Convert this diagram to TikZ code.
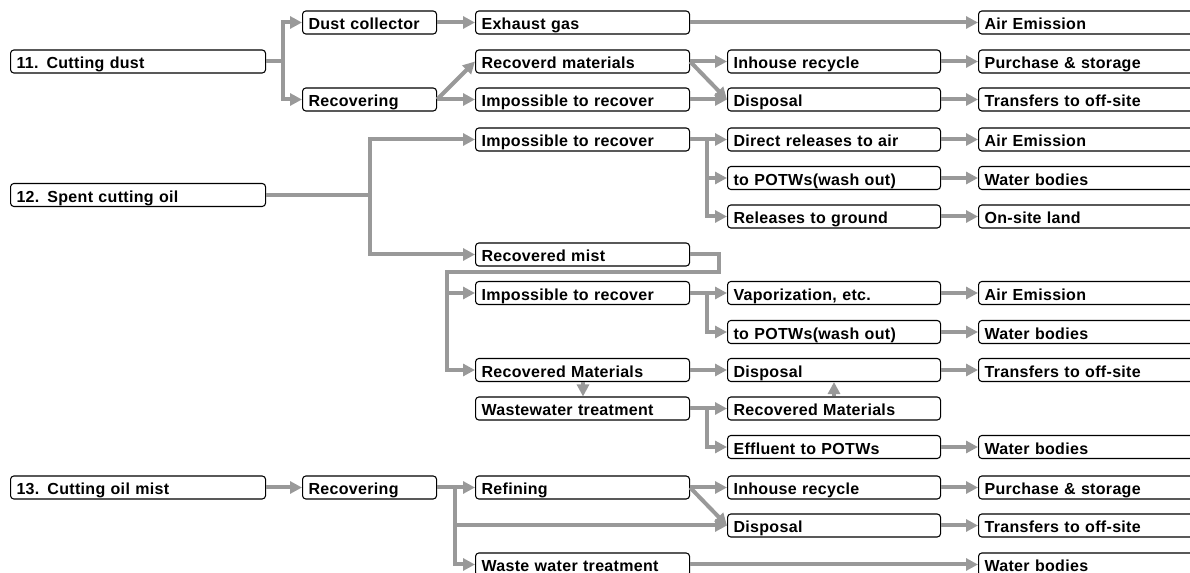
\documentclass[tikz,border=0pt]{standalone}
\usepackage{fontspec}
\setmainfont{Liberation Sans}[LetterSpace=2]
\usetikzlibrary{arrows.meta,calc}
\definecolor{flow}{RGB}{153,153,153}
\tikzset{
  box/.style={draw=black, line width=0.8pt, fill=white, rounded corners=2.5pt,
    inner xsep=4.5pt, inner ysep=0pt, minimum height=17.25pt,
    text height=12pt, text depth=0.75pt, align=left,
    font=\fontsize{12pt}{13pt}\selectfont\bfseries},
  ln/.style={draw=flow, line width=3pt},
  arr/.style={ln, -{Triangle[length=9pt,width=9pt]}},
}
% \bx{name}{left x}{right x}{centre y}{label}
\newcommand\bx[5]{%
  \pgfmathsetmacro\bxw{(#3-#2)*0.75-9}%
  \node[box, text width=\bxw pt, anchor=west] (#1) at (#2,#4) {#5};%
}
\begin{document}
\begin{tikzpicture}[x=0.75pt, y=-0.75pt]
\useasboundingbox (0,0) rectangle (1190,573);
\clip (0,0) rectangle (1190,573);

% column edges
\def\al{10}\def\ar{265}
\def\bl{302}\def\br{436}
\def\cl{475}\def\cr{689}
\def\dl{727}\def\dr{940}
\def\el{978}\def\er{1215}

% ---- 11. Cutting dust
\bx{c11}{\al}{\ar}{61.5}{11. Cutting dust}
\bx{dcol}{\bl}{\br}{22.5}{Dust collector}
\bx{rec1}{\bl}{\br}{99.5}{Recovering}
\bx{exh}{\cl}{\cr}{22.5}{Exhaust gas}
\bx{rmat1}{\cl}{\cr}{61.5}{Recoverd materials}
\bx{imp1}{\cl}{\cr}{99.5}{Impossible to recover}
\bx{inh1}{\dl}{\dr}{61.5}{Inhouse recycle}
\bx{dis1}{\dl}{\dr}{99.5}{Disposal}
\bx{air1}{\el}{\er}{22.5}{Air Emission}
\bx{pur1}{\el}{\er}{61.5}{Purchase \& storage}
\bx{tr1}{\el}{\er}{99.5}{Transfers to off-site}

% ---- 12. Spent cutting oil
\bx{c12}{\al}{\ar}{195}{12. Spent cutting oil}
\bx{imp2}{\cl}{\cr}{139.5}{Impossible to recover}
\bx{dra}{\dl}{\dr}{139.5}{Direct releases to air}
\bx{potw1}{\dl}{\dr}{178}{to POTWs(wash out)}
\bx{rg}{\dl}{\dr}{216.5}{Releases to ground}
\bx{air2}{\el}{\er}{139.5}{Air Emission}
\bx{wb1}{\el}{\er}{178}{Water bodies}
\bx{osl}{\el}{\er}{216.5}{On-site land}
\bx{mist}{\cl}{\cr}{254.5}{Recovered mist}
\bx{imp3}{\cl}{\cr}{293}{Impossible to recover}
\bx{vap}{\dl}{\dr}{293}{Vaporization, etc.}
\bx{air3}{\el}{\er}{293}{Air Emission}
\bx{potw2}{\dl}{\dr}{332}{to POTWs(wash out)}
\bx{wb2}{\el}{\er}{332}{Water bodies}
\bx{rmat2}{\cl}{\cr}{370}{Recovered Materials}
\bx{dis2}{\dl}{\dr}{370}{Disposal}
\bx{tr2}{\el}{\er}{370}{Transfers to off-site}
\bx{wwt1}{\cl}{\cr}{408.5}{Wastewater treatment}
\bx{rmat3}{\dl}{\dr}{408.5}{Recovered Materials}
\bx{eff}{\dl}{\dr}{447}{Effluent to POTWs}
\bx{wb3}{\el}{\er}{447}{Water bodies}

% ---- 13. Cutting oil mist
\bx{c13}{\al}{\ar}{487.5}{13. Cutting oil mist}
\bx{rec2}{\bl}{\br}{487.5}{Recovering}
\bx{ref}{\cl}{\cr}{487.5}{Refining}
\bx{inh2}{\dl}{\dr}{487.5}{Inhouse recycle}
\bx{pur2}{\el}{\er}{487.5}{Purchase \& storage}
\bx{dis3}{\dl}{\dr}{525.5}{Disposal}
\bx{tr3}{\el}{\er}{525.5}{Transfers to off-site}
\bx{wwt2}{\cl}{\cr}{564.5}{Waste water treatment}
\bx{wb4}{\el}{\er}{564.5}{Water bodies}

% junction points of the branching lines
\coordinate (j11) at (283,61.5);
\coordinate (j12) at (370,195);
\coordinate (jD) at (707,139.5);
\coordinate (m1) at (719,272);
\coordinate (m2) at (447,272);
\coordinate (jH) at (707,293);
\coordinate (jK) at (707,408.5);
\coordinate (jM) at (455,487.5);
\coordinate (xd) at (583,0);
\coordinate (xu) at (834,0);

% ---- flows of 11
\draw[arr] (c11.east) -- (j11) |- (dcol.west);
\draw[arr] (c11.east) -- (j11) |- (rec1.west);
\draw[arr] (dcol.east) -- (exh.west);
\draw[arr] (rec1.east) -- (rmat1.west);
\draw[arr] (rec1.east) -- (imp1.west);
\draw[arr] (exh.east) -- (air1.west);
\draw[arr] (rmat1.east) -- (inh1.west);
\draw[arr] (rmat1.east) -- (dis1.west);
\draw[arr] (imp1.east) -- (dis1.west);
\draw[arr] (inh1.east) -- (pur1.west);
\draw[arr] (dis1.east) -- (tr1.west);

% ---- flows of 12
\draw[arr] (c12.east) -- (j12) |- (imp2.west);
\draw[arr] (c12.east) -- (j12) |- (mist.west);
\draw[arr] (imp2.east) -- (dra.west);
\draw[arr] (imp2.east) -- (jD) |- (potw1.west);
\draw[arr] (imp2.east) -- (jD) |- (rg.west);
\draw[arr] (dra.east) -- (air2.west);
\draw[arr] (potw1.east) -- (wb1.west);
\draw[arr] (rg.east) -- (osl.west);
\draw[arr] (mist.east) -| (m1) -- (m2) |- (imp3.west);
\draw[arr] (m2) |- (rmat2.west);
\draw[arr] (imp3.east) -- (vap.west);
\draw[arr] (imp3.east) -- (jH) |- (potw2.west);
\draw[arr] (vap.east) -- (air3.west);
\draw[arr] (potw2.east) -- (wb2.west);
\draw[arr] (rmat2.east) -- (dis2.west);
\draw[arr] (dis2.east) -- (tr2.west);
\draw[arr] (rmat2.south -| xd) -- (wwt1.north -| xd);
\draw[arr] (wwt1.east) -- (rmat3.west);
\draw[arr] (wwt1.east) -- (jK) |- (eff.west);
\draw[arr] (eff.east) -- (wb3.west);
\draw[arr] (rmat3.north -| xu) -- (dis2.south -| xu);

% ---- flows of 13
\draw[arr] (c13.east) -- (rec2.west);
\draw[arr] (rec2.east) -- (ref.west);
\draw[arr] (rec2.east) -- (jM) |- (dis3.west);
\draw[arr] (rec2.east) -- (jM) |- (wwt2.west);
\draw[arr] (ref.east) -- (inh2.west);
\draw[arr] (ref.east) -- (dis3.west);
\draw[arr] (inh2.east) -- (pur2.west);
\draw[arr] (dis3.east) -- (tr3.west);
\draw[arr] (wwt2.east) -- (wb4.west);
\end{tikzpicture}
\end{document}
